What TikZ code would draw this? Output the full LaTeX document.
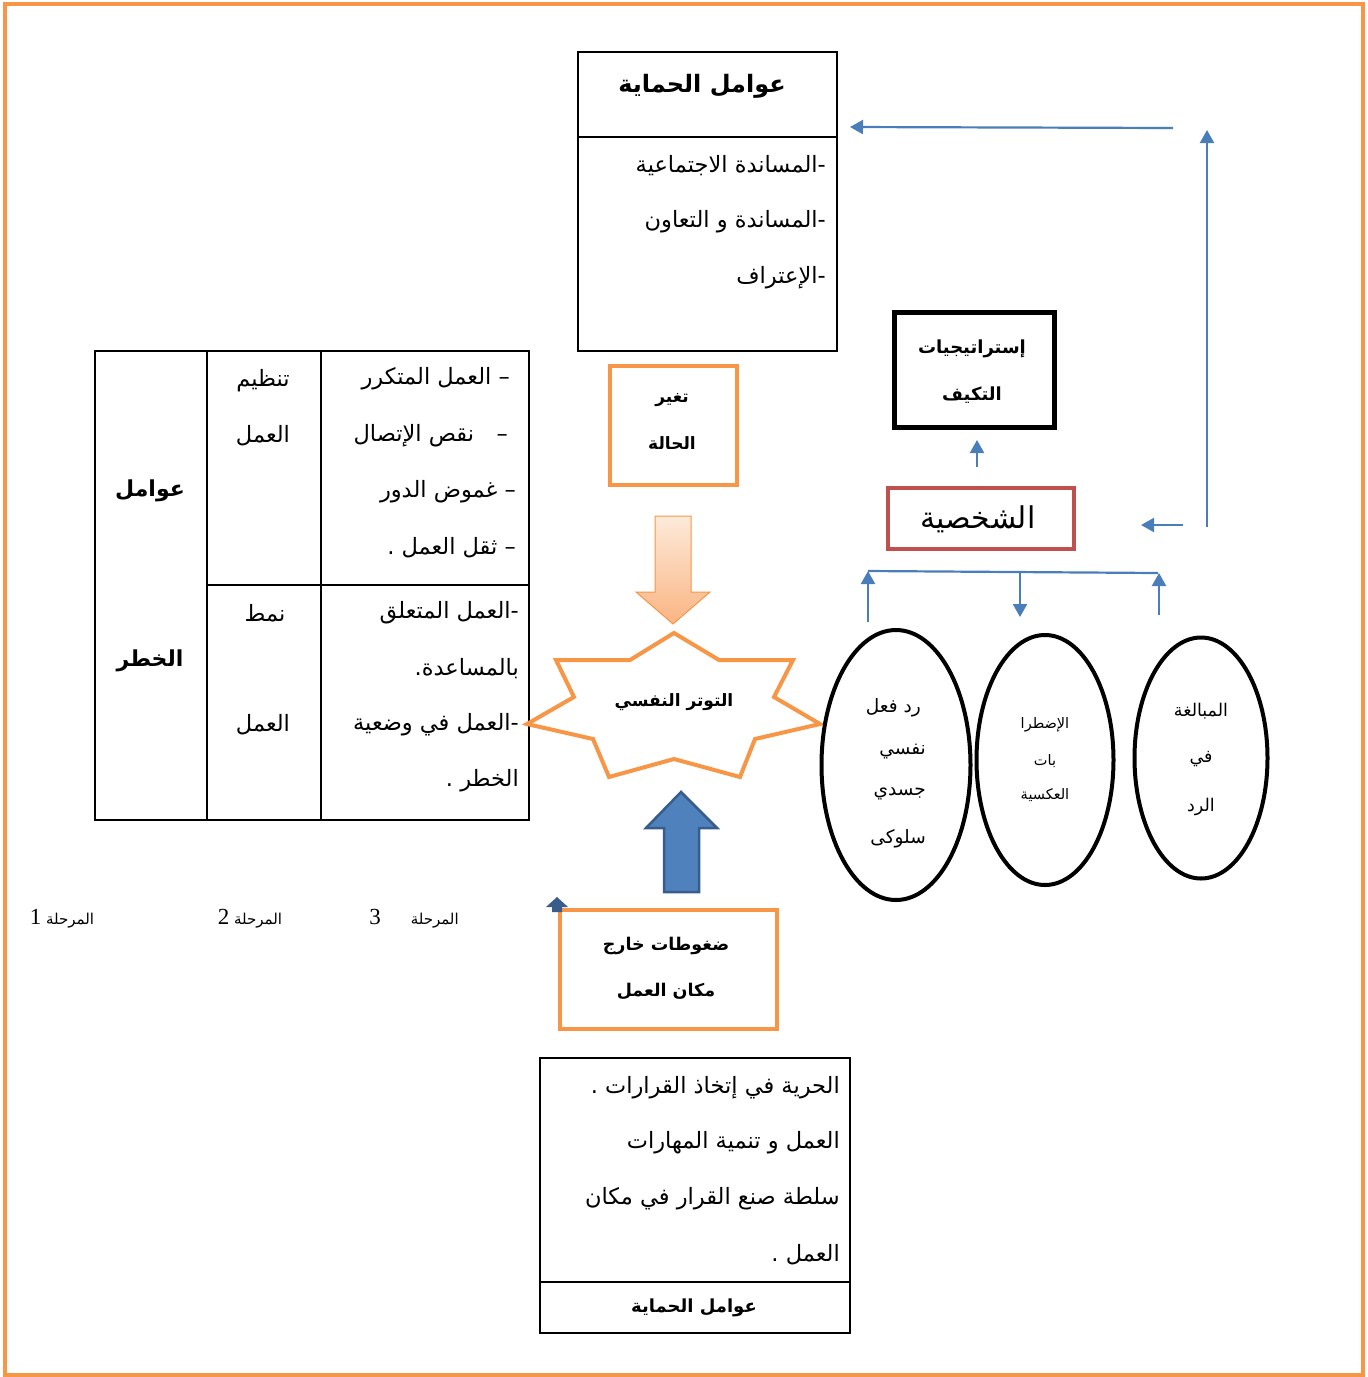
\documentclass[tikz,border=0pt]{standalone}
\usepackage{fontspec}
\newfontfamily\arabicfont[Script=Arabic]{DejaVu Sans}
\newfontfamily\numfont{Liberation Serif}
\TeXXeTstate=1
\usetikzlibrary{shapes.geometric,arrows.meta}
\newcommand\rtl[1]{\beginR #1\endR}
\newcommand\ltrnum[1]{\beginL{\numfont #1}\endL}

\definecolor{frameorange}{HTML}{F79646}
\definecolor{lineblue}{HTML}{4A7EBB}
\definecolor{fillblue}{HTML}{4F81BD}
\definecolor{darkblue}{HTML}{385D8A}
\definecolor{boxred}{HTML}{C0504D}
\definecolor{paleorange}{HTML}{FDEADA}
\definecolor{midorange}{HTML}{FAB583}

\tikzset{
  txt/.style={inner sep=0pt, yshift=-2pt, font=\arabicfont\fontsize{22.5}{24}\selectfont},
  txtb/.style={inner sep=0pt, font=\arabicfont\bfseries\fontsize{#1}{#1}\selectfont},
  txtb/.default=18,
  small/.style={inner sep=0pt, yshift=-1pt, font=\arabicfont\fontsize{#1}{#1}\selectfont},
  thinbox/.style={draw=black, line width=1.8pt, anchor=north west, inner sep=0pt},
  orangebox/.style={draw=frameorange, line width=4pt, anchor=north west, inner sep=0pt},
  oval/.style={draw=black, line width=4pt, ellipse, inner sep=0pt},
  barrow/.style={draw=lineblue, line width=2.2pt, -{Triangle[length=13pt,width=14pt]}},
  bline/.style={draw=lineblue, line width=2.2pt},
}

\begin{document}
\begin{tikzpicture}[x=1pt,y=-1pt]
% page frame
\useasboundingbox (0,0) rectangle (1368,1377);
\draw[frameorange, line width=4.5pt] (5,4) rectangle (1363,1375);

% ---- protection factors (top) ----
\node[thinbox, minimum width=259pt, minimum height=299pt] (prot) at (577,51) {};
\draw[line width=1.8pt] (577,137) -- (836,137);
\node[txtb=24] (protT) at (702,86) {\rtl{عوامل الحماية}};
\node[txt, anchor=east] (p1) at (826,164) {\rtl{-المساندة الاجتماعية}};
\node[txt, anchor=east] (p2) at (826,220) {\rtl{-المساندة و التعاون}};
\node[txt, anchor=east] (p3) at (826,276) {\rtl{-الإعتراف}};

% ---- risk factors table ----
\node[thinbox, minimum width=434pt, minimum height=469pt] (risk) at (94,350) {};
\draw[line width=1.8pt] (207,350) -- (207,819) (321,350) -- (321,819) (207,585) -- (528,585);
\node[txtb=22] (r1) at (150,491) {\rtl{عوامل}};
\node[txtb=22] (r2) at (150,661) {\rtl{الخطر}};
\node[txt] (c1) at (263,379) {\rtl{تنظيم}};
\node[txt] (c2) at (263,434) {\rtl{العمل}};
\node[txt] (c3) at (265,611) {\rtl{نمط}};
\node[txt] (c4) at (263,723) {\rtl{العمل}};
\node[txt, anchor=east] (u1) at (510,377) {\rtl{– العمل المتكرر}};
\node[txt, anchor=east] (u2) at (508,434) {\rtl{–\quad نقص الإتصال}};
\node[txt, anchor=east] (u3) at (516,490) {\rtl{– غموض الدور}};
\node[txt, anchor=east] (u4) at (516,546) {\rtl{– ثقل العمل .}};
\node[txt, anchor=east] (l1) at (519,611) {\rtl{-العمل المتعلق}};
\node[txt, anchor=east] (l2) at (519,667) {\rtl{بالمساعدة.}};
\node[txt, anchor=east] (l3) at (519,723) {\rtl{-العمل في وضعية}};
\node[txt, anchor=east] (l4) at (519,779) {\rtl{الخطر .}};

% ---- change of state ----
\node[orangebox, minimum width=127pt, minimum height=119pt] (chg) at (608,364) {};
\node[txtb=17] (chg1) at (672,400) {\rtl{تغير}};
\node[txtb=17] (chg2) at (672,443) {\rtl{الحالة}};

% shaded arrow down to the stress star
\shade[top color=paleorange, bottom color=midorange, draw=frameorange, line width=1pt]
  (655,516) -- (691,516) -- (691,592) -- (710,592) -- (673,624) -- (636,592) -- (655,592) -- cycle;

% ---- psychological stress star ----
\draw[frameorange, line width=4pt, line join=miter, fill=white]
  (674,633) -- (719,660) -- (793,660) -- (774,697) -- (820,724) -- (755,739) -- (740,777)
  -- (674,759) -- (609,777) -- (593,739) -- (527,724) -- (574,697) -- (556,660) -- (630,660) -- cycle;
\node[txtb=17] (stress) at (674,702) {\rtl{التوتر النفسي}};

% big blue arrow up
\filldraw[fill=fillblue, draw=darkblue, line width=2.5pt, line join=miter]
  (664,892) -- (664,828) -- (646,828) -- (681,792) -- (717,828) -- (699,828) -- (699,892) -- cycle;

% ---- outside pressures ----
\node[orangebox, minimum width=217pt, minimum height=119pt] (out) at (558,908) {};
\node[txtb=17.5] (out1) at (666,946) {\rtl{ضغوطات خارج}};
\node[txtb=17.5] (out2) at (666,991) {\rtl{مكان العمل}};
\fill[darkblue] (557,897) -- (568,907) -- (562,907) -- (562,912) -- (552,912) -- (552,907) -- (546,907) -- cycle;

% stage labels
\node[small=15] (s1) at (62,918) {\rtl{المرحلة \ltrnum{\fontsize{23}{23}\selectfont 1}}};
\node[small=15] (s2) at (250,918) {\rtl{المرحلة \ltrnum{\fontsize{23}{23}\selectfont 2}}};
\node[small=15] (s3) at (414,918) {\rtl{المرحلة\hspace{30pt}\ltrnum{\fontsize{23}{23}\selectfont 3}}};

% ---- protection factors (bottom) ----
\node[thinbox, minimum width=310pt, minimum height=275pt] (prot2) at (539,1057) {};
\draw[line width=1.8pt] (539,1282) -- (849,1282);
\node[txt, anchor=east] (b1) at (840,1086) {\rtl{الحرية في إتخاذ القرارات .}};
\node[txt, anchor=east] (b2) at (840,1141) {\rtl{العمل و تنمية المهارات}};
\node[txt, anchor=east] (b3) at (840,1197) {\rtl{سلطة صنع القرار في مكان}};
\node[txt, anchor=east] (b4) at (840,1253) {\rtl{العمل .}};
\node[txtb=18] (prot2T) at (694,1308) {\rtl{عوامل الحماية}};

% ---- coping strategies and personality ----
\node[draw=black, line width=4.5pt, anchor=north west, minimum width=160pt, minimum height=115pt] (cope) at (892,310) {};
\node[txtb=18] (cope1) at (972,349) {\rtl{إستراتيجيات}};
\node[txtb=18] (cope2) at (972,395) {\rtl{التكيف}};
\node[draw=boxred, line width=4pt, anchor=north west, minimum width=186pt, minimum height=61pt] (pers) at (886,486) {};
\node[small=30] (persT) at (978,518) {\rtl{الشخصية}};

% ---- reaction ovals ----
\node[oval, minimum width=149pt, minimum height=270pt] (e1) at (896,765) {};
\node[oval, minimum width=137pt, minimum height=250pt] (e2) at (1045,760) {};
\node[oval, minimum width=133pt, minimum height=241pt] (e3) at (1201,758) {};
\node[small=18.5, anchor=east] (e1a) at (921,707) {\rtl{رد فعل}};
\node[small=18.5, anchor=east] (e1b) at (926,751) {\rtl{نفسي}};
\node[small=18.5, anchor=east] (e1c) at (926,793) {\rtl{جسدي}};
\node[small=18.5, anchor=east] (e1d) at (926,838) {\rtl{سلوكى}};
\node[small=14.5] (e2a) at (1045,724) {\rtl{الإضطرا}};
\node[small=14.5] (e2b) at (1045,760) {\rtl{بات}};
\node[small=14.5] (e2c) at (1045,794) {\rtl{العكسية}};
\node[small=17.5] (e3a) at (1201,710) {\rtl{المبالغة}};
\node[small=17.5] (e3b) at (1201,758) {\rtl{في}};
\node[small=17.5] (e3c) at (1201,806) {\rtl{الرد}};

% ---- blue feedback arrows ----
\coordinate (fbA) at (1173,128);
\coordinate (fbB) at (850,127);
\coordinate (upA) at (1207,527);
\coordinate (upB) at (1207,130);
\coordinate (inA) at (1183,525);
\coordinate (inB) at (1141,525);
\coordinate (cpA) at (977,467);
\coordinate (cpB) at (977,440);
\coordinate (brL) at (868,571);
\coordinate (brM) at (1020,572);
\coordinate (brR) at (1158,573);
\coordinate (e1top) at (868,622);
\coordinate (e2top) at (1020,617);
\coordinate (e3top) at (1159,615);

\draw[barrow] (fbA) -- (fbB);
\draw[barrow] (upA) -- (upB);
\draw[barrow] (inA) -- (inB);
\draw[barrow] (cpA) -- (cpB);
\draw[bline] (brL) -- (brR);
\draw[barrow] (e1top) -- (brL);
\draw[barrow] (brM) -- (e2top);
\draw[barrow] (e3top) -- ([xshift=1pt]brR);
\end{tikzpicture}
\end{document}
